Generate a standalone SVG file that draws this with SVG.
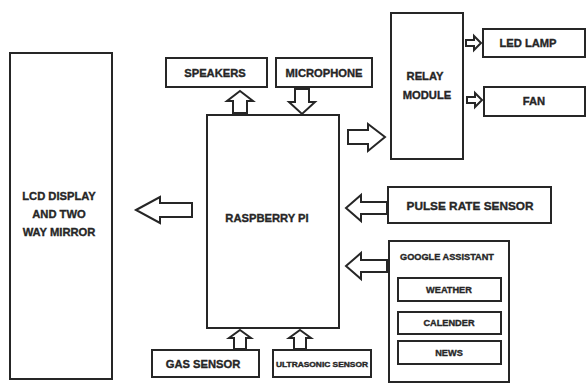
<svg xmlns="http://www.w3.org/2000/svg" width="586" height="385" viewBox="0 0 586 385">
<style>
.box{fill:#fff;stroke:#262626;stroke-width:2}
.arr{fill:#fff;stroke:#262626;stroke-width:2;stroke-linejoin:miter}
text{font-family:"Liberation Sans",Arial,sans-serif;font-weight:bold;fill:#262626;stroke:#262626;stroke-width:0.35;text-anchor:middle;dominant-baseline:central}
.t11{font-size:11.8px}
.t10{font-size:11.2px}
.t8{font-size:9.2px}
.t6{font-size:7px}
</style>
<rect width="586" height="385" fill="#fff"/>
<g id="lcd">
<rect class="box" x="10" y="53" width="102" height="326"/>
<text class="t10" x="59" y="196">LCD DISPLAY</text>
<text class="t10" x="59" y="214">AND TWO</text>
<text class="t10" x="59" y="232">WAY MIRROR</text>
</g>
<g id="speakers">
<rect class="box" x="166" y="58" width="101" height="29"/>
<text class="t10" x="215" y="73">SPEAKERS</text>
</g>
<g id="microphone">
<rect class="box" x="276" y="58" width="96" height="29"/>
<text class="t10" x="324" y="73">MICROPHONE</text>
</g>
<g id="raspberry">
<rect class="box" x="207" y="115" width="132" height="213"/>
<text class="t10" x="267" y="218">RASPBERRY PI</text>
</g>
<g id="relay">
<rect class="box" x="391" y="13" width="72" height="146"/>
<text class="t10" x="425" y="76">RELAY</text>
<text class="t10" x="427" y="95">MODULE</text>
</g>
<g id="ledlamp">
<rect class="box" x="483" y="29" width="102" height="28"/>
<text class="t10" x="528" y="43">LED LAMP</text>
</g>
<g id="fan">
<rect class="box" x="484" y="87" width="101" height="29"/>
<text class="t10" x="534" y="101">FAN</text>
</g>
<g id="pulse">
<rect class="box" x="388" y="187" width="163" height="36"/>
<text class="t11" x="470" y="206">PULSE RATE SENSOR</text>
</g>
<g id="google">
<rect class="box" x="389" y="241" width="120" height="141"/>
<text class="t8" x="447" y="257">GOOGLE ASSISTANT</text>
<g id="weather">
<rect class="box" x="398" y="278" width="103" height="23"/>
<text class="t8" x="449" y="290">WEATHER</text>
</g>
<g id="calender">
<rect class="box" x="398" y="312" width="103" height="22"/>
<text class="t8" x="449" y="323">CALENDER</text>
</g>
<g id="news">
<rect class="box" x="398" y="341" width="103" height="23"/>
<text class="t8" x="449" y="353">NEWS</text>
</g>
</g>
<g id="gas">
<rect class="box" x="152" y="350" width="107" height="27"/>
<text class="t10" x="203" y="364">GAS SENSOR</text>
</g>
<g id="ultrasonic">
<rect class="box" x="273" y="350" width="98" height="27"/>
<text class="t6" x="322" y="364" textLength="92" lengthAdjust="spacingAndGlyphs">ULTRASONIC SENSOR</text>
</g>
<g id="connectors">
<path class="arr" d="M240,91 L253,101 L247,101 L247,113 L233,113 L233,101 L227,101 Z"/>
<path class="arr" d="M295,89 L309,89 L309,102 L315,102 L302,114 L289,102 L295,102 Z"/>
<path class="arr" d="M348,130 L368,130 L368,124 L385,137 L368,151 L368,144 L348,144 Z"/>
<path class="arr" d="M466,40 L474,40 L474,36 L481,43 L474,50 L474,46 L466,46 Z"/>
<path class="arr" d="M467,97 L475,97 L475,93 L482,100 L475,107 L475,103 L467,103 Z"/>
<path class="arr" d="M346,208 L361,195 L361,202 L387,202 L387,214 L361,214 L361,221 Z"/>
<path class="arr" d="M346,266 L361,253 L361,260 L387,260 L387,272 L361,272 L361,279 Z"/>
<path class="arr" d="M136,210 L160,197 L160,203 L192,203 L192,217 L160,217 L160,223 Z"/>
<path class="arr" d="M240,330 L251,338 L246,338 L246,349 L234,349 L234,338 L229,338 Z"/>
<path class="arr" d="M300,330 L311,338 L306,338 L306,349 L294,349 L294,338 L289,338 Z"/>
</g>
</svg>
